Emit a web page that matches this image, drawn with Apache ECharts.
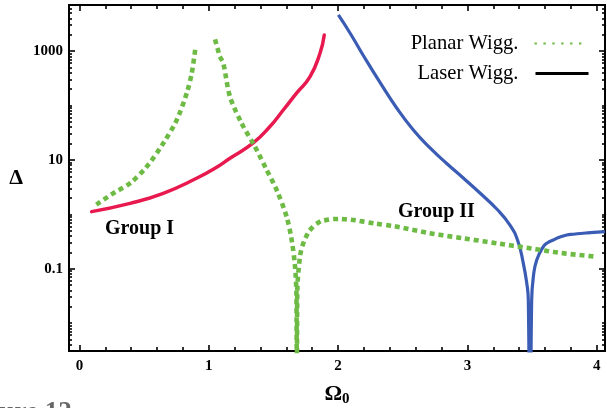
<!DOCTYPE html>
<html>
<head>
<meta charset="utf-8">
<script src="https://cdn.jsdelivr.net/npm/echarts@6/dist/echarts.min.js"></script>
<style>
  html, body { margin: 0; padding: 0; background: #fff; }
  #chart { width: 607px; height: 408px; }
</style>
</head>
<body>
<div id="chart"></div>
<script>
// Group I, laser wiggler (red)
const omegaRed = [0.094, 0.391, 0.648, 0.906, 1.048, 1.164, 1.344, 1.473, 1.576, 1.682, 1.783, 1.860, 1.893];
const deltaRed = [1.12, 1.59, 2.43, 4.59, 7.0, 10.7, 20.5, 41, 82.6, 172, 338, 912, 1977];

// Planar wiggler (green dotted); null marks the break near the resonance
const omegaGreen = [0.145, 0.261, 0.391, 0.520, 0.648, 0.752, 0.829, 0.868, 0.893, 0.97,
  1.053, 1.087, 1.112, 1.164, 1.254, 1.357, 1.448, 1.525, 1.602, 1.641, 1.667, 1.678, 1.681,
  1.684, 1.705, 1.731, 1.783, 1.861, 1.989, 2.118, 2.272, 2.453, 2.711, 2.968, 3.227, 3.484,
  3.742, 4.0];
const deltaGreen = [1.59, 2.43, 3.72, 7.5, 20.2, 54, 167, 391, 975, null,
  1490, 789, 597, 145, 47, 17.5, 6.5, 2.8, 0.90, 0.337, 0.109, 0.03, 0.00001,
  0.035, 0.166, 0.293, 0.514, 0.731, 0.82, 0.785, 0.684, 0.592, 0.448, 0.362, 0.293, 0.237,
  0.192, 0.166];

// Group II, laser wiggler (blue)
const omegaBlue = [2.002, 2.092, 2.195, 2.324, 2.453, 2.582, 2.711, 2.840, 2.968, 3.097,
  3.227, 3.329, 3.390, 3.432, 3.459, 3.471, 3.484, 3.497, 3.510, 3.536, 3.587, 3.62, 3.664,
  3.70, 3.768, 3.82, 3.896, 3.95, 4.064];
const deltaBlue = [4610, 2150, 830, 265, 90, 35.5, 16.6, 8.6, 4.65, 2.46,
  1.25, 0.635, 0.323, 0.127, 0.054, 0.0266, 0.00001, 0.0266, 0.071, 0.145, 0.254, 0.30, 0.337,
  0.37, 0.416, 0.43, 0.448, 0.46, 0.479];

// Tick labels
const xTickLabels = [0, 1, 2, 3, 4];
const yTickLabels = [1000, 10, 0.1];

const X_MIN = -0.081, X_MAX = 4.064;
const Y_MIN = 0.00307, Y_MAX = 7030;

const xMinorTicks = [];
for (let i = 0; i <= 20; i++) {
  const v = +(i * 0.2).toFixed(1);
  if (!xTickLabels.includes(v)) xMinorTicks.push(v);
}
const yMinorTicks = [];
for (let n = -3; n <= 3; n++) {
  for (let k = 1; k <= 9; k++) {
    const v = +(k * Math.pow(10, n)).toPrecision(3);
    if (!yTickLabels.includes(v)) yMinorTicks.push(v);
  }
}

const pairs = (xs, ys) => xs.map((x, i) => [x, ys[i] == null ? '-' : ys[i]]);

const serif = '"Liberation Serif", "DejaVu Serif", serif';
const BLACK = '#000';

function xAxisDef(position, ticks, len, showLabel) {
  return {
    type: 'value', position: position, min: X_MIN, max: X_MAX,
    axisLine: { show: true, onZero: false, lineStyle: { color: BLACK, width: 2 } },
    splitLine: { show: false },
    axisTick: { show: true, inside: true, length: len, customValues: ticks,
      lineStyle: { color: BLACK, width: 1.6 } },
    axisLabel: showLabel ? {
      show: true, customValues: xTickLabels, margin: 8,
      fontFamily: serif, fontWeight: 'bold', fontSize: 15, color: BLACK
    } : { show: false }
  };
}
function yAxisDef(position, ticks, len, showLabel) {
  return {
    type: 'log', logBase: 10, position: position, min: Y_MIN, max: Y_MAX,
    axisLine: { show: true, onZero: false, lineStyle: { color: BLACK, width: 2 } },
    splitLine: { show: false },
    axisTick: { show: true, inside: true, length: len, customValues: ticks,
      lineStyle: { color: BLACK, width: 1.6 } },
    axisLabel: showLabel ? {
      show: true, customValues: yTickLabels, margin: 6,
      formatter: v => String(v),
      fontFamily: serif, fontWeight: 'bold', fontSize: 15, color: BLACK
    } : { show: false }
  };
}

const xMain = xAxisDef('bottom', xTickLabels, 6, true);
xMain.name = '{o|Ω}{s|0}';
xMain.nameLocation = 'middle';
xMain.nameGap = 31;
xMain.nameTextStyle = {
  rich: {
    o: { fontFamily: serif, fontSize: 22, fontWeight: 'bold', color: BLACK },
    s: { fontFamily: serif, fontSize: 15, fontWeight: 'bold', color: BLACK, padding: [10, 0, 0, 0] }
  }
};
const yMain = yAxisDef('left', yTickLabels, 6, true);
yMain.name = 'Δ';
yMain.nameLocation = 'middle';
yMain.nameGap = 46;
yMain.nameRotate = 0;
yMain.nameTextStyle = { fontFamily: serif, fontSize: 22, fontWeight: 'bold', color: BLACK };

const chart = echarts.init(document.getElementById('chart'), null, { renderer: 'canvas' });
chart.setOption({
  backgroundColor: '#fff',
  animation: false,
  grid: { left: 69, right: 2, top: 5, bottom: 57, outerBoundsMode: 'none', containLabel: false },
  xAxis: [
    xMain,
    xAxisDef('bottom', xMinorTicks, 4, false),
    xAxisDef('top', xTickLabels, 6, false),
    xAxisDef('top', xMinorTicks, 4, false)
  ],
  yAxis: [
    yMain,
    yAxisDef('left', yMinorTicks, 3, false),
    yAxisDef('right', yTickLabels, 6, false),
    yAxisDef('right', yMinorTicks, 3, false)
  ],
  legend: {
    orient: 'vertical', right: 17, top: 33, align: 'right', padding: 0,
    itemWidth: 53, itemHeight: 14, itemGap: 9,
    itemStyle: { opacity: 0 },
    textStyle: { fontFamily: serif, fontSize: 20.6, color: BLACK, padding: [0, 12, 0, 0] },
    data: [
      { name: 'Planar Wigg.', itemStyle: { opacity: 0 } },
      { name: 'Laser Wigg.', itemStyle: { color: BLACK, opacity: 0 }, lineStyle: { color: BLACK, width: 3, type: 'solid', cap: 'butt' } }
    ]
  },
  graphic: [
    { type: 'text', left: 105, top: 219,
      style: { text: 'Group I', font: 'bold 20px ' + serif, fill: BLACK } },
    { type: 'text', left: 398, top: 202,
      style: { text: 'Group II', font: 'bold 20px ' + serif, fill: BLACK } },
    { type: 'text', left: -38, top: 400,
      style: { text: 'Figure 12', font: 'bold 27px ' + serif, fill: '#666' } }
  ],
  series: [
    {
      name: 'Laser Wigg.', type: 'line', symbol: 'none', smooth: true,
      data: pairs(omegaRed, deltaRed),
      lineStyle: { color: '#e8194f', width: 3.5, cap: 'round' },
      itemStyle: { color: '#e8194f' }
    },
    {
      name: 'Laser Wigg.', type: 'line', symbol: 'none', smooth: true,
      data: pairs(omegaBlue, deltaBlue),
      lineStyle: { color: '#3a5cb4', width: 3.2 },
      itemStyle: { color: '#3a5cb4' }
    },
    {
      name: 'Planar Wigg.', type: 'line', symbol: 'none', smooth: 0.3, connectNulls: false,
      data: pairs(omegaGreen, deltaGreen),
      lineStyle: { color: '#6dbb45', width: 4.6, type: [0.4, 8.5], cap: 'square' },
      itemStyle: { color: '#6dbb45' }
    }
  ]
});
</script>
</body>
</html>
